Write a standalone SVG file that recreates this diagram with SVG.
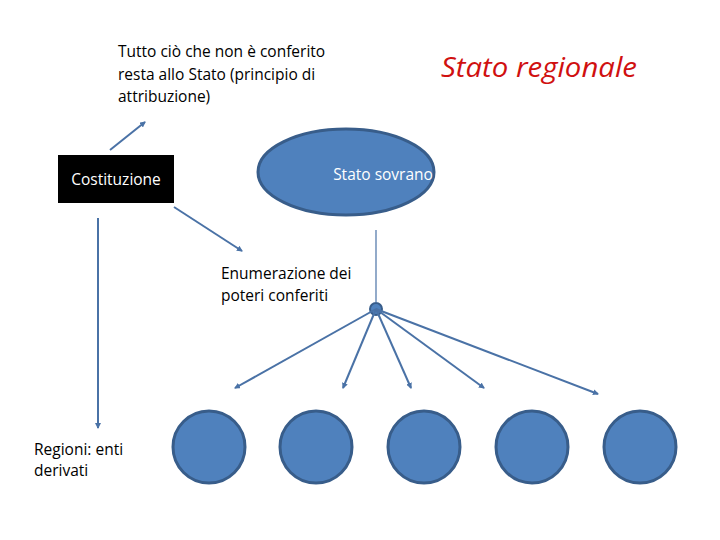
<svg xmlns="http://www.w3.org/2000/svg" width="720" height="540" viewBox="0 0 720 540">
<defs>
<style>
.t{font-family:"Open Sans","Liberation Sans",Arial,sans-serif;font-size:15.5px;fill:#000}
.w{font-family:"Open Sans","Liberation Sans",Arial,sans-serif;font-size:15.5px;fill:#fff}
.c{stroke:#4a72a6;stroke-width:2;fill:none}
.thin{stroke:#4a72a6;stroke-width:1.2;fill:none}
.n{fill:#4f81bd;stroke:#385d8a;stroke-width:3}
</style>
<marker id="a" viewBox="0 0 6 6" refX="5" refY="3" markerWidth="3" markerHeight="3" orient="auto"><path d="M0,0 L6,3 L0,6 z" fill="#4a72a6"/></marker>
</defs>
<rect width="720" height="540" fill="#fff"/>
<g id="title"><text x="441" y="77" textLength="196" lengthAdjust="spacingAndGlyphs" style="font-family:'Open Sans','Liberation Sans',Arial,sans-serif;font-size:28px;font-style:italic;fill:#d01010">Stato regionale</text></g>
<g id="note"><text class="t" x="118" y="57">Tutto ciò che non è conferito</text><text class="t" x="118" y="80">resta allo Stato (principio di</text><text class="t" x="118" y="102">attribuzione)</text></g>
<g id="costituzione"><rect x="58" y="155" width="116" height="48" fill="#000"/><text class="w" x="116" y="185" text-anchor="middle">Costituzione</text></g>
<g id="stato-sovrano"><ellipse class="n" cx="346" cy="172" rx="88" ry="43"/><text class="w" x="383" y="180" text-anchor="middle">Stato sovrano</text></g>
<g id="enumerazione"><text class="t" x="221" y="279">Enumerazione dei</text><text class="t" x="221" y="301">poteri conferiti</text></g>
<g id="regioni"><text class="t" x="34" y="455">Regioni: enti</text><text class="t" x="34" y="476">derivati</text></g>
<g id="hub"><circle cx="376" cy="309" r="6" fill="#4f81bd" stroke="#385d8a" stroke-width="2"/></g>
<g id="r1"><circle class="n" cx="209" cy="447" r="36"/></g>
<g id="r2"><circle class="n" cx="316" cy="447" r="36"/></g>
<g id="r3"><circle class="n" cx="424" cy="447" r="36"/></g>
<g id="r4"><circle class="n" cx="532" cy="447" r="36"/></g>
<g id="r5"><circle class="n" cx="640" cy="447" r="36"/></g>
<g id="connectors">
<line class="c" x1="110" y1="150" x2="145" y2="122" marker-end="url(#a)"/>
<line class="c" x1="174" y1="207" x2="242" y2="251" marker-end="url(#a)"/>
<line class="c" x1="98" y1="218" x2="98" y2="428" marker-end="url(#a)"/>
<line class="thin" x1="376" y1="230" x2="376" y2="303"/>
<line class="c" x1="376" y1="309" x2="235" y2="388" marker-end="url(#a)"/>
<line class="c" x1="376" y1="309" x2="343" y2="388" marker-end="url(#a)"/>
<line class="c" x1="376" y1="309" x2="411" y2="388" marker-end="url(#a)"/>
<line class="c" x1="376" y1="309" x2="484" y2="388" marker-end="url(#a)"/>
<line class="c" x1="376" y1="309" x2="598" y2="394" marker-end="url(#a)"/>
</g>
</svg>
